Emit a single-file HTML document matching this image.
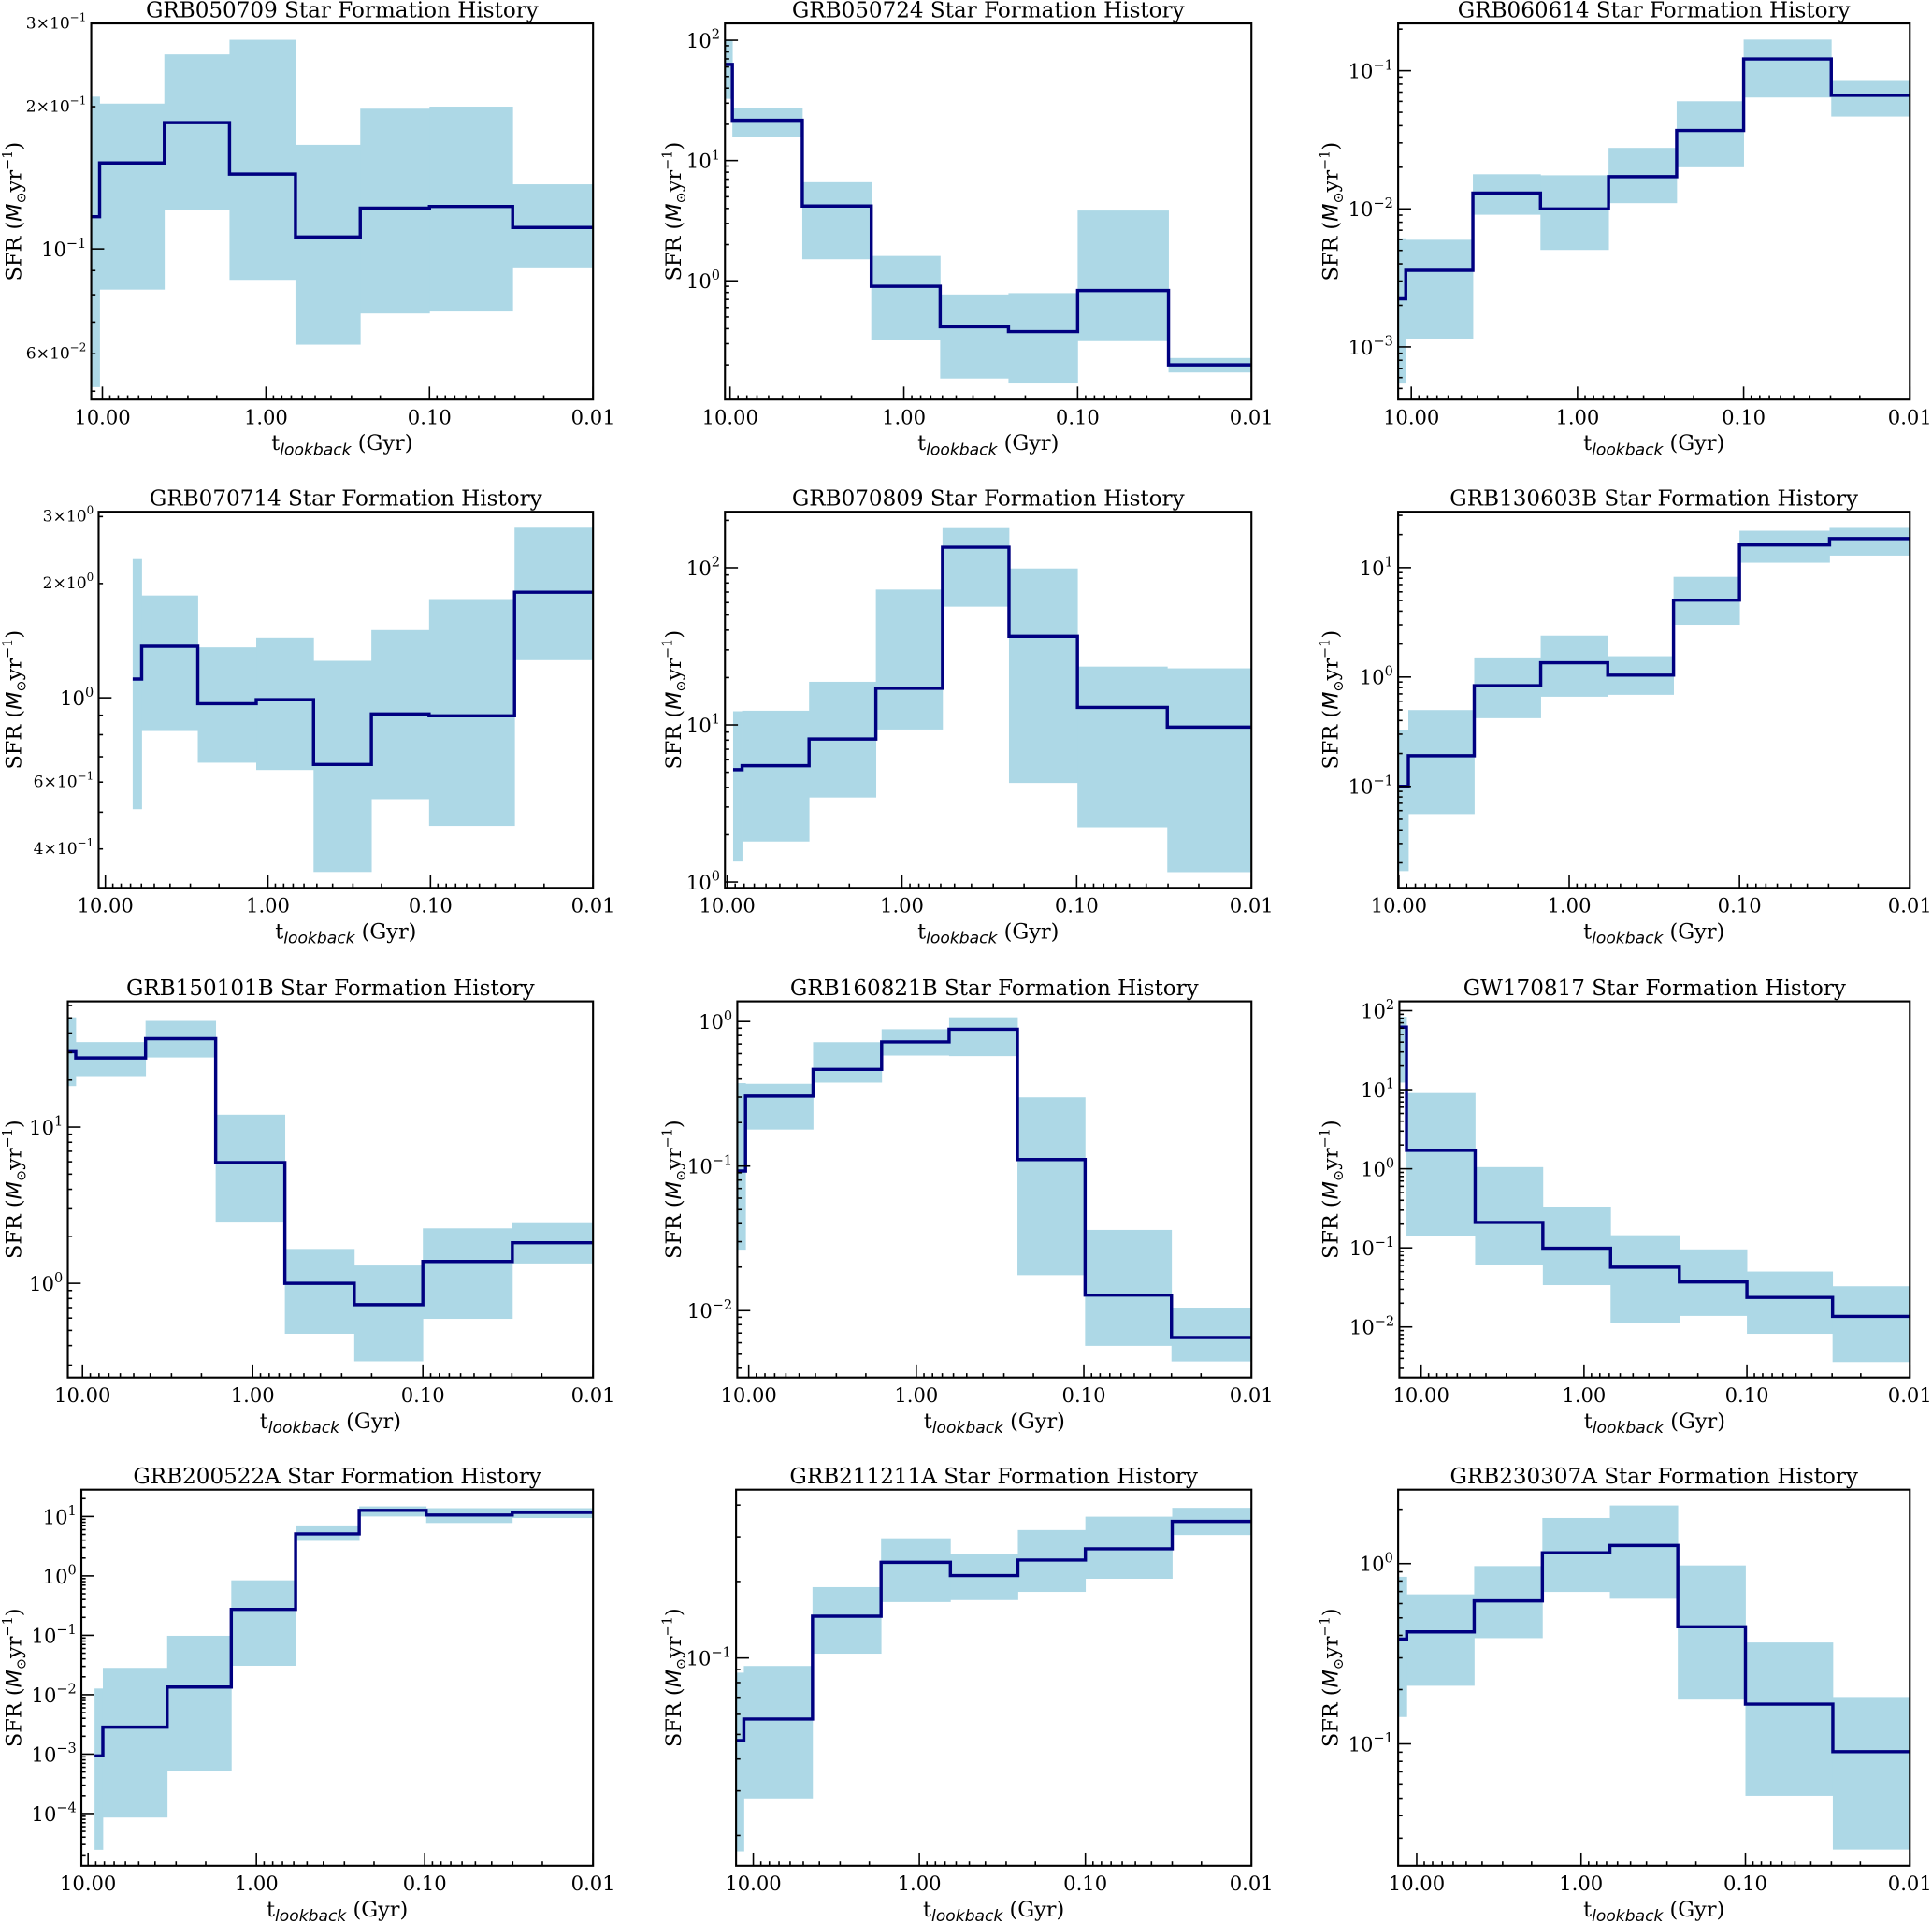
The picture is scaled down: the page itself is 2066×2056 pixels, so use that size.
<!DOCTYPE html>
<html><head><meta charset="utf-8"><title>Star Formation Histories</title>
<style>
html,body{margin:0;padding:0;background:#fff;}
svg{display:block;}
text{font-family:"DejaVu Serif","Liberation Serif",serif;fill:#000;}
</style></head>
<body>
<svg id="fig" xmlns="http://www.w3.org/2000/svg" width="2066" height="2056" viewBox="0 0 1567 1559.4"></svg>
<script>
const titles = ["GRB050709","GRB050724","GRB060614","GRB070714","GRB070809","GRB130603B","GRB150101B","GRB160821B","GW170817","GRB200522A","GRB211211A","GRB230307A"];
const xMax = [11.7,10.7,12.0,11.0,10.3,10.1,12.2,11.7,13.6,10.96,12.7,12.97];
const yMin = [0.048,0.103,0.000416,0.316,0.918,0.0118,0.25,0.00345,0.0023,1.32e-5,0.0152,0.0211];
const yMax = [0.30,138,0.22,3.09,227,32.4,63.8,1.38,131,28.3,0.46,2.57];
const edges = [
 [11.7,10.4,4.18,1.67,0.66,0.265,0.1,0.031,0.01],
 [10.7,9.7,3.84,1.54,0.618,0.25,0.1,0.03,0.01],
 [12.0,10.8,4.26,1.67,0.65,0.253,0.1,0.0297,0.01],
 [6.79,5.98,2.70,1.18,0.524,0.231,0.102,0.0304,0.01],
 [9.25,8.22,3.40,1.41,0.586,0.244,0.099,0.0303,0.01],
 [10.1,8.8,3.61,1.47,0.594,0.244,0.1,0.0296,0.01],
 [12.2,10.96,4.26,1.65,0.647,0.253,0.1,0.0298,0.01],
 [11.7,10.45,4.13,1.61,0.637,0.249,0.0983,0.030,0.01],
 [13.6,12.3,4.66,1.79,0.687,0.26,0.1,0.0298,0.01],
 [9.15,8.17,3.39,1.41,0.585,0.245,0.098,0.0302,0.01],
 [12.7,11.4,4.4,1.70,0.65,0.255,0.1,0.030,0.01],
 [12.97,11.5,4.47,1.72,0.668,0.258,0.1,0.0294,0.01]
];
const sfr = [
 [0.117,0.152,0.185,0.144,0.106,0.122,0.123,0.111],
 [63,21.6,4.19,0.90,0.415,0.378,0.83,0.20],
 [0.00223,0.00359,0.0130,0.0100,0.0171,0.0369,0.1216,0.0664],
 [1.121,1.367,0.965,0.989,0.668,0.907,0.897,1.897],
 [5.19,5.5,8.13,17.1,135,36.6,12.9,9.68],
 [0.1,0.191,0.834,1.35,1.04,5.04,16.1,18.4],
 [30.4,27.7,36.8,5.93,1.0,0.731,1.38,1.82],
 [0.0925,0.305,0.467,0.723,0.885,0.111,0.0128,0.00652],
 [61.7,1.71,0.21,0.099,0.0569,0.037,0.0236,0.0136],
 [0.000935,0.00284,0.01345,0.2735,5.11,12.7,10.6,11.7],
 [0.0473,0.0575,0.146,0.238,0.211,0.243,0.269,0.345],
 [0.381,0.418,0.621,1.148,1.26,0.446,0.166,0.0906]
];
const sfrLo = [
 [0.051,0.082,0.121,0.086,0.0627,0.073,0.0737,0.091],
 [32.6,15.7,1.51,0.322,0.154,0.14,0.315,0.173],
 [0.000543,0.00115,0.00906,0.00504,0.011,0.02,0.064,0.0466],
 [0.509,0.818,0.675,0.646,0.348,0.541,0.46,1.257],
 [1.35,1.81,3.45,9.35,56.5,4.27,2.23,1.156],
 [0.0168,0.0558,0.42,0.66,0.687,3.0,11.1,12.9],
 [18.3,21.2,27.9,2.45,0.476,0.317,0.593,1.34],
 [0.0264,0.179,0.378,0.582,0.577,0.0176,0.00571,0.00445],
 [12.3,0.142,0.061,0.0338,0.0113,0.0138,0.0082,0.0036],
 [2.44e-5,8.57e-5,0.000514,0.0307,3.89,10,7.78,9.42],
 [0.0173,0.028,0.104,0.166,0.169,0.182,0.205,0.305],
 [0.141,0.21,0.386,0.696,0.638,0.176,0.0516,0.0259]
];
const sfrHi = [
 [0.210,0.203,0.258,0.277,0.166,0.198,0.200,0.137],
 [100,27.5,6.6,1.61,0.77,0.79,3.84,0.228],
 [0.00612,0.00597,0.0178,0.0175,0.0276,0.0601,0.168,0.0844],
 [2.32,1.86,1.358,1.44,1.252,1.507,1.82,2.82],
 [12.2,12.3,18.8,72.6,181,99,23.5,22.9],
 [0.329,0.498,1.51,2.38,1.55,8.24,21.7,23.5],
 [50.4,35,47.8,12,1.66,1.3,2.25,2.43],
 [0.375,0.371,0.72,0.885,1.07,0.299,0.0362,0.0105],
 [83.6,9.06,1.05,0.324,0.1445,0.0957,0.0501,0.0327],
 [0.0127,0.0283,0.098,0.841,6.83,14.8,13.8,13.8],
 [0.0875,0.093,0.19,0.296,0.256,0.319,0.36,0.39],
 [0.844,0.675,0.969,1.79,2.1,0.977,0.365,0.182]
];
const xTickVals = [10,1,0.1,0.01];
const xTickLabels = ["10.00","1.00","0.10","0.01"];
// labelled minor y ticks: [mantissa, exponent]
const yMinorLabels = [
 [[3,-1],[2,-1],[6,-2]],[],[],
 [[3,0],[2,0],[6,-1],[4,-1]],[],[],[],[],[],[],[],[]
];
// layout (preview units): [left, right, top, bottom]
const frames = [
 [74,481,19,324],[588,1015,19,324],[1134,1549,19,324],
 [80,481,415,720],[588,1015,415,720],[1134,1549,415,720],
 [55,481,812,1117],[598,1015,812,1117],[1135,1549,812,1117],
 [66,481,1208,1513],[597,1015,1208,1513],[1134,1549,1208,1513]
];
const ylabX = [11,546,1079];

const NS = "http://www.w3.org/2000/svg";
const svg = document.getElementById("fig");
function mk(tag, attrs, parent){
  const e = document.createElementNS(NS, tag);
  for (const k in attrs) e.setAttribute(k, attrs[k]);
  parent.appendChild(e);
  return e;
}
function tsp(parent, txt, attrs){
  const t = document.createElementNS(NS, "tspan");
  for (const k in (attrs||{})) t.setAttribute(k, attrs[k]);
  t.textContent = txt;
  parent.appendChild(t);
  return t;
}
function expStr(n){ return (n<0 ? "\u2212" : "") + Math.abs(n); }

for (let p = 0; p < 12; p++) {
  const [L,R,T,B] = frames[p];
  const lx0 = Math.log10(xMax[p]) + 2;
  const X = t => R - (Math.log10(t) + 2) / lx0 * (R - L);
  const ly0 = Math.log10(yMin[p]), ly1 = Math.log10(yMax[p]);
  const Y = v => B - (Math.log10(v) - ly0) / (ly1 - ly0) * (B - T);

  const g = mk("g", {}, svg);
  
  

  const clipId = "clip" + p;
  const cp = mk("clipPath", {id: clipId}, g);
  mk("rect", {x: L, y: T, width: R - L, height: B - T}, cp);

  const band = mk("g", {"clip-path": "url(#" + clipId + ")"}, g);
  
  
  const e = edges[p];
  for (let i = 0; i < sfr[p].length; i++) {
    const x1 = X(e[i]), x2 = X(e[i+1]);
    const yt = Y(sfrHi[p][i]), yb = Y(sfrLo[p][i]);
    const r = mk("rect", {x: x1, y: yt, width: x2 - x1 + 0.3, height: yb - yt, fill: "#add8e6"}, band);
    
    
  }
  let d = "M" + X(e[0]) + "," + Y(sfr[p][0]);
  for (let i = 0; i < sfr[p].length; i++) {
    if (i > 0) d += " V" + Y(sfr[p][i]);
    d += " H" + X(e[i+1]);
  }
  const line = mk("path", {d: d, fill: "none", stroke: "#000080", "stroke-width": 2.6, "clip-path": "url(#" + clipId + ")"}, g);
  
  

  const xt = mk("g", {stroke: "#000", "stroke-width": 1.2}, g);
  
  
  for (let dd = -2; dd <= 1; dd++) {
    for (let k = 2; k <= 9; k++) {
      const v = k * Math.pow(10, dd);
      if (v >= xMax[p] || v <= 0.01) continue;
      mk("line", {x1: X(v), x2: X(v), y1: B, y2: B - 3.5}, xt);
    }
  }
  xTickVals.forEach((v, i) => {
    if (v > xMax[p]) return;
    mk("line", {x1: X(v), x2: X(v), y1: B, y2: B - 10.5}, xt);
    const lt = mk("text", {x: X(v), y: B + 20, "text-anchor": "middle", "font-size": 16}, g);
    
    
    lt.textContent = xTickLabels[i];
  });

  const yt = mk("g", {stroke: "#000", "stroke-width": 1.2}, g);
  
  
  for (let dd = Math.floor(ly0) - 1; dd <= Math.ceil(ly1); dd++) {
    for (let k = 1; k <= 9; k++) {
      const v = k * Math.pow(10, dd);
      const lv = Math.log10(v);
      if (lv < ly0 - 1e-9 || lv > ly1 + 1e-9) continue;
      const y = Y(v);
      mk("line", {x1: L, x2: L + (k === 1 ? 10.5 : 3.5), y1: y, y2: y}, yt);
      if (k === 1) {
        const lt = mk("text", {x: L - 4, y: y + 6, "text-anchor": "end", "font-size": 16}, g);
        
        
        tsp(lt, "10");
        tsp(lt, expStr(dd), {dy: -7, "font-size": 11});
      }
    }
  }
  yMinorLabels[p].forEach(([m, ex]) => {
    const y = Y(m * Math.pow(10, ex));
    const lt = mk("text", {x: L - 4, y: y + 4, "text-anchor": "end", "font-size": 13}, g);
    
    
    tsp(lt, m + "\u00d710");
    tsp(lt, expStr(ex), {dy: -6, "font-size": 9});
  });

  const fr = mk("rect", {x: L, y: T, width: R - L, height: B - T, fill: "none", stroke: "#000", "stroke-width": 1.6}, g);
  
  

  const tt = mk("text", {x: (L + R) / 2, y: T - 5, "text-anchor": "middle", "font-size": 17.5}, g);
  
  
  tt.textContent = titles[p] + " Star Formation History";

  const xl = mk("text", {x: (L + R) / 2, y: B + 41, "text-anchor": "middle", "font-size": 17}, g);
  
  
  tsp(xl, "t");
  tsp(xl, "lookback", {"font-style": "italic", "font-family": "DejaVu Sans, sans-serif", "font-size": 13, dy: 4});
  tsp(xl, " (Gyr)", {dy: -4});

  const cx = ylabX[p % 3], cy = (T + B) / 2;
  const yl = mk("text", {x: cx, y: cy, "text-anchor": "middle", "font-size": 17, transform: "rotate(-90 " + cx + " " + cy + ")", dy: 6}, g);
  
  
  tsp(yl, "SFR (");
  tsp(yl, "M", {"font-style": "italic", "font-family": "DejaVu Sans, sans-serif"});
  tsp(yl, "\u2299", {"font-size": 11, dy: 4});
  tsp(yl, "yr", {dy: -4});
  tsp(yl, "\u22121", {"font-size": 11, dy: -7});
  tsp(yl, ")", {dy: 7});
}
</script>
</body></html>
